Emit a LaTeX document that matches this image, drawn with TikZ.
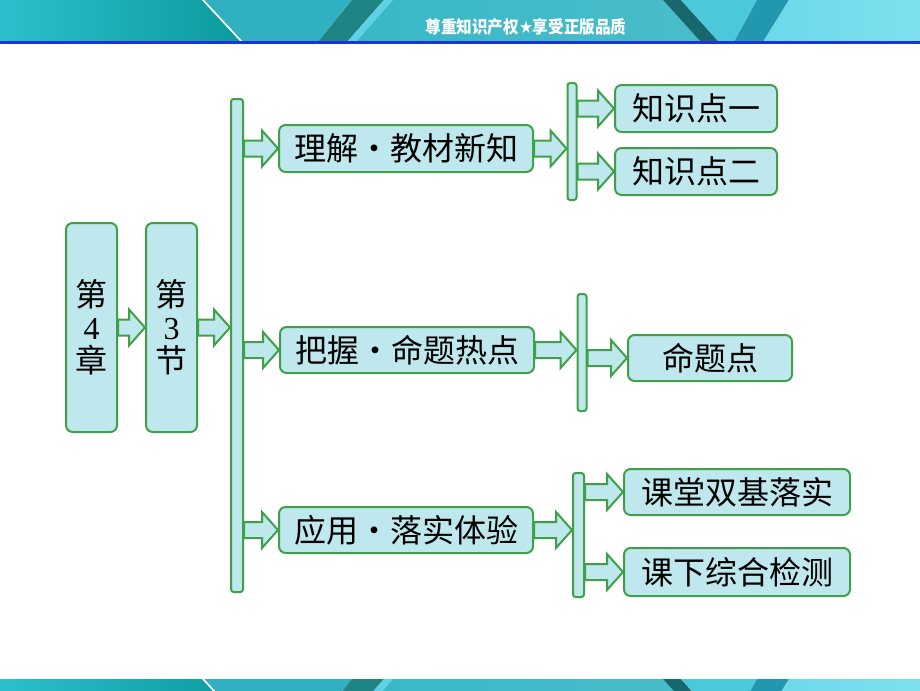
\documentclass[tikz,border=0pt]{standalone}
\usepackage{fontspec}
\setmainfont{Liberation Serif}
\newfontfamily\cjk{Noto Sans CJK SC}
\newfontfamily\sym{DejaVu Sans}
\usetikzlibrary{calc,positioning}

\definecolor{boxgreen}{RGB}{64,160,72}
\definecolor{boxfill}{RGB}{190,232,238}
\definecolor{bandblue}{RGB}{30,50,215}
\definecolor{bandA}{HTML}{2BC0CB}
\definecolor{bandB}{HTML}{0C9B9E}
\definecolor{bandC}{HTML}{31B0C2}
\definecolor{bandD}{HTML}{1F8484}
\definecolor{bandE}{HTML}{5ED2E4}
\definecolor{bandF}{HTML}{38B8C5}
\definecolor{bandG}{HTML}{4ABCC9}
\definecolor{bandH}{HTML}{17686C}
\definecolor{bandI}{HTML}{4CC8DB}
\definecolor{bandJ}{HTML}{2198AF}
\definecolor{bandK}{HTML}{6AD9E9}
\definecolor{bandL}{HTML}{7EE0EE}

% slanted stripes of the slide band
\newcommand\bandstripes{%
  \shade[left color=bandA, right color=bandB] (0,0) -- (202,0) -- (241,42) -- (0,42) -- cycle;
  \fill[bandC] (204,0) -- (352,0) -- (318,42) -- (243,42) -- cycle;
  \draw[white, line width=1.2pt] (203,0) -- (242,42);
  \fill[bandD] (352,0) -- (384,0) -- (347,42) -- (318,42) -- cycle;
  \fill[bandE] (384,0) -- (393,0) -- (356,42) -- (347,42) -- cycle;
  \shade[left color=bandF, right color=bandG] (393,0) -- (663,0) -- (701,42) -- (356,42) -- cycle;
  \fill[bandH] (663,0) -- (681,0) -- (719,42) -- (701,42) -- cycle;
  \fill[bandI] (681,0) -- (757,0) -- (734,42) -- (719,42) -- cycle;
  \fill[bandJ] (757,0) -- (789,0) -- (763,42) -- (734,42) -- cycle;
  \shade[left color=bandK, right color=bandL] (789,0) -- (920,0) -- (920,42) -- (763,42) -- cycle;
}

\begin{document}
\begin{tikzpicture}[x=0.75pt, y=-0.75pt, on grid,
  box/.style={draw=boxgreen, line width=1.5pt, fill=boxfill, rounded corners=5pt, inner sep=0pt, font=\cjk\fontsize{24pt}{28pt}\selectfont},
  bar/.style={draw=boxgreen, line width=1.5pt, fill=boxfill, rounded corners=2pt, inner sep=0pt},
  blk/.style={draw=boxgreen, line width=1.5pt, fill=boxfill, line join=miter,
    to path={let \p1=(\tikztostart), \p2=(\tikztotarget) in
      (\x1,\y1-6pt) -- (\x2-12pt,\y1-6pt) -- (\x2-12pt,\y1-13.5pt) -- (\x2,\y1)
      -- (\x2-12pt,\y1+13.5pt) -- (\x2-12pt,\y1+6pt) -- (\x1,\y1+6pt) -- cycle}}]
	\useasboundingbox (0,0) rectangle (920,690);
	% bands
	\begin{scope}
		\clip (0,0) rectangle (920,42);
		\bandstripes
	\end{scope}
	\fill[bandblue] (0,41) rectangle (920,44);
	\begin{scope}[shift={(0,679)}]
		\clip (0,0) rectangle (920,11);
		\bandstripes
	\end{scope}
	\node[text=white, font=\cjk\bfseries\fontsize{13pt}{15pt}\selectfont] (title) at (526,27)
		{\scalebox{0.9}[1]{尊重知识产权{\sym ★}享受正版品质}};
	% chapter and section
	\node[box, minimum width=38.25pt, minimum height=156.75pt, align=center, font=\fontsize{24pt}{24.75pt}\selectfont] (ch) at (91.5,327.5) {{\cjk 第}\\4\\{\cjk 章}};
	\node[box, minimum width=38.25pt, minimum height=156.75pt, align=center, font=\fontsize{24pt}{24.75pt}\selectfont] (sec) at (171.5,327.5) {{\cjk 第}\\3\\{\cjk 节}};
	\node[bar, minimum width=9pt, minimum height=369.75pt] (bar1) at (237,345.5) {};
	% parts
	\node[box, minimum width=190.5pt, minimum height=35.25pt] (br1) at (406,148.5) {理解·教材新知};
	\node[box, minimum width=190.5pt, minimum height=34.5pt] (br2) at (407,350) {把握·命题热点};
	\node[box, minimum width=190.5pt, minimum height=34.5pt] (br3) at (406,530) {应用·落实体验};
	\node[bar, minimum width=6.75pt, minimum height=87.75pt] (bar2) at (572,141.5) {};
	\node[bar, minimum width=6.75pt, minimum height=87.75pt] (bar3) at (582,352.5) {};
	\node[bar, minimum width=8.25pt, minimum height=93pt] (bar4) at (578.5,535) {};
	% leaves
	\node[box, minimum width=121.5pt, minimum height=35.25pt] (lf1) at (696,108.5) {知识点一};
	\node[box, minimum width=121.5pt, minimum height=35.25pt] (lf2) [below=47.25pt of lf1] {知识点二};
	\node[box, minimum width=123pt, minimum height=34.5pt] (lf3) at (710,358) {命题点};
	\node[box, minimum width=169.5pt, minimum height=34.5pt] (lf4) at (737,492) {课堂双基落实};
	\node[box, minimum width=169.5pt, minimum height=36pt] (lf5) [below=60pt of lf4] {课下综合检测};
	\path[blk]
	(ch.east) to (sec.west)
	(sec.east) to (bar1.west |- sec.east)
	(bar1.east |- br1.west) to (br1.west)
	(bar1.east |- br2.west) to (br2.west)
	(bar1.east |- br3.west) to (br3.west)
	(br1.east) to (bar2.west |- br1.east)
	(br2.east) to (bar3.west |- br2.east)
	(br3.east) to (bar4.west |- br3.east)
	(bar2.east |- lf1.west) to (lf1.west)
	(bar2.east |- lf2.west) to (lf2.west)
	(bar3.east |- lf3.west) to (lf3.west)
	(bar4.east |- lf4.west) to (lf4.west)
	(bar4.east |- lf5.west) to (lf5.west)
	;
\end{tikzpicture}
\end{document}
